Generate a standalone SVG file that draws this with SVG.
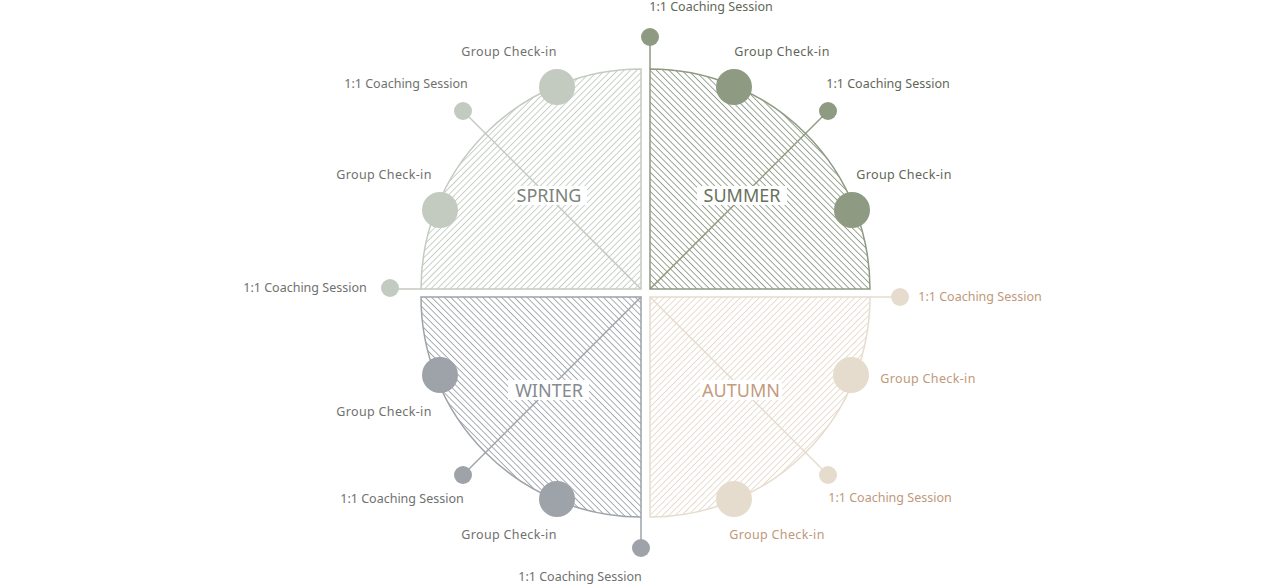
<svg xmlns="http://www.w3.org/2000/svg" width="1286" height="588" viewBox="0 0 1286 588">
  <style>
    .lbl { font-family: "Noto Sans", "Liberation Sans", sans-serif; font-size: 12.5px; letter-spacing: 0.35px; text-anchor: middle; }
    .coach { letter-spacing: 0px; }
    .season { font-family: "Noto Sans", "Liberation Sans", sans-serif; font-size: 18px; text-anchor: middle; }
    .gray { fill: #6f716e; }
    .grn { fill: #5f6758; }
    .brn { fill: #c1987a; }
    .box { fill: #ffffff; }
    .edge { stroke-width: 1.5; }
  </style>
  <defs>
    <pattern id="hSpring" patternUnits="userSpaceOnUse" width="4.5" height="4.5" patternTransform="rotate(45)">
      <line x1="0" y1="0" x2="0" y2="4.5" stroke="#bdc6ba" stroke-width="1.6"/>
    </pattern>
    <pattern id="hSummer" patternUnits="userSpaceOnUse" width="4.5" height="4.5" patternTransform="rotate(-45)">
      <line x1="0" y1="0" x2="0" y2="4.5" stroke="#82907a" stroke-width="1.6"/>
    </pattern>
    <pattern id="hWinter" patternUnits="userSpaceOnUse" width="4.5" height="4.5" patternTransform="rotate(-45)">
      <line x1="0" y1="0" x2="0" y2="4.5" stroke="#939aa0" stroke-width="1.6"/>
    </pattern>
    <pattern id="hAutumn" patternUnits="userSpaceOnUse" width="4.5" height="4.5" patternTransform="rotate(45)">
      <line x1="0" y1="0" x2="0" y2="4.5" stroke="#e2d6c4" stroke-width="1.6"/>
    </pattern>
  </defs>
  <rect width="1286" height="588" fill="#ffffff"/>

  <!-- Quadrants -->
  <g id="spring-quadrant">
    <path d="M641,289 L421,289 A220,220 0 0 1 641,69 Z" fill="url(#hSpring)" stroke="#c3cbc0" class="edge"/>
  </g>
  <g id="summer-quadrant">
    <path d="M650,289 L650,69 A220,220 0 0 1 870,289 Z" fill="url(#hSummer)" stroke="#8e9a82" class="edge"/>
  </g>
  <g id="winter-quadrant">
    <path d="M641,297 L641,517 A220,220 0 0 1 421,297 Z" fill="url(#hWinter)" stroke="#9da3a8" class="edge"/>
  </g>
  <g id="autumn-quadrant">
    <path d="M650,297 L870,297 A220,220 0 0 1 650,517 Z" fill="url(#hAutumn)" stroke="#e6dccd" class="edge"/>
  </g>

  <!-- Connectors -->
  <g id="connectors" stroke-width="1.5" fill="none">
    <line x1="463" y1="111" x2="641" y2="289" stroke="#c3cbc0"/>
    <line x1="390" y1="289" x2="421" y2="289" stroke="#c3cbc0"/>
    <line x1="828" y1="111" x2="650" y2="289" stroke="#8e9a82"/>
    <line x1="650" y1="37" x2="650" y2="69" stroke="#8e9a82"/>
    <line x1="463" y1="475" x2="641" y2="297" stroke="#9da3a8"/>
    <line x1="641" y1="517" x2="641" y2="548" stroke="#9da3a8"/>
    <line x1="828" y1="475" x2="650" y2="297" stroke="#e6dccd"/>
    <line x1="870" y1="297" x2="900" y2="297" stroke="#e6dccd"/>
  </g>

  <!-- Season labels -->
  <g id="spring-label">
    <rect class="box" x="515" y="186" width="72" height="19"/>
    <text class="season" x="549" y="202" fill="#7b837a">SPRING</text>
  </g>
  <g id="summer-label">
    <rect class="box" x="697" y="186" width="90" height="19"/>
    <text class="season" x="742" y="202" fill="#66725c">SUMMER</text>
  </g>
  <g id="winter-label">
    <rect class="box" x="508" y="380" width="81" height="20"/>
    <text class="season" x="549" y="397" fill="#858b92">WINTER</text>
  </g>
  <g id="autumn-label">
    <rect class="box" x="700" y="380" width="82" height="20"/>
    <text class="season" x="741" y="397" fill="#c29c7e">AUTUMN</text>
  </g>

  <!-- Spring nodes -->
  <g id="spring-coaching-1">
    <circle cx="463" cy="111" r="9" fill="#c3cbc0"/>
    <text class="lbl coach gray" x="406" y="88">1:1 Coaching Session</text>
  </g>
  <g id="spring-checkin-1">
    <circle cx="557" cy="87" r="18" fill="#c3cbc0"/>
    <text class="lbl gray" x="509" y="56">Group Check-in</text>
  </g>
  <g id="spring-checkin-2">
    <circle cx="440" cy="210" r="18" fill="#c3cbc0"/>
    <text class="lbl gray" x="384" y="179">Group Check-in</text>
  </g>
  <g id="spring-coaching-2">
    <circle cx="390" cy="288" r="9" fill="#c3cbc0"/>
    <text class="lbl coach gray" x="305" y="292">1:1 Coaching Session</text>
  </g>

  <!-- Summer nodes -->
  <g id="summer-coaching-1">
    <circle cx="650" cy="37" r="9" fill="#8e9a82"/>
    <text class="lbl coach grn" x="711" y="11">1:1 Coaching Session</text>
  </g>
  <g id="summer-checkin-1">
    <circle cx="734" cy="87" r="18" fill="#8e9a82"/>
    <text class="lbl grn" x="782" y="56">Group Check-in</text>
  </g>
  <g id="summer-coaching-2">
    <circle cx="828" cy="111" r="9" fill="#8e9a82"/>
    <text class="lbl coach grn" x="888" y="88">1:1 Coaching Session</text>
  </g>
  <g id="summer-checkin-2">
    <circle cx="852" cy="210" r="18" fill="#8e9a82"/>
    <text class="lbl grn" x="904" y="179">Group Check-in</text>
  </g>

  <!-- Autumn nodes -->
  <g id="autumn-coaching-1">
    <circle cx="900" cy="297" r="9" fill="#e6dccd"/>
    <text class="lbl coach brn" x="980" y="301">1:1 Coaching Session</text>
  </g>
  <g id="autumn-checkin-1">
    <circle cx="851" cy="375" r="18" fill="#e6dccd"/>
    <text class="lbl brn" x="928" y="383">Group Check-in</text>
  </g>
  <g id="autumn-coaching-2">
    <circle cx="828" cy="475" r="9" fill="#e6dccd"/>
    <text class="lbl coach brn" x="890" y="502">1:1 Coaching Session</text>
  </g>
  <g id="autumn-checkin-2">
    <circle cx="734" cy="499" r="18" fill="#e6dccd"/>
    <text class="lbl brn" x="777" y="539">Group Check-in</text>
  </g>

  <!-- Winter nodes -->
  <g id="winter-checkin-1">
    <circle cx="440" cy="375" r="18" fill="#9da3a8"/>
    <text class="lbl gray" x="384" y="416">Group Check-in</text>
  </g>
  <g id="winter-coaching-1">
    <circle cx="463" cy="475" r="9" fill="#9da3a8"/>
    <text class="lbl coach gray" x="402" y="503">1:1 Coaching Session</text>
  </g>
  <g id="winter-checkin-2">
    <circle cx="557" cy="499" r="18" fill="#9da3a8"/>
    <text class="lbl gray" x="509" y="539">Group Check-in</text>
  </g>
  <g id="winter-coaching-2">
    <circle cx="641" cy="548" r="9" fill="#9da3a8"/>
    <text class="lbl coach gray" x="580" y="581">1:1 Coaching Session</text>
  </g>
</svg>
